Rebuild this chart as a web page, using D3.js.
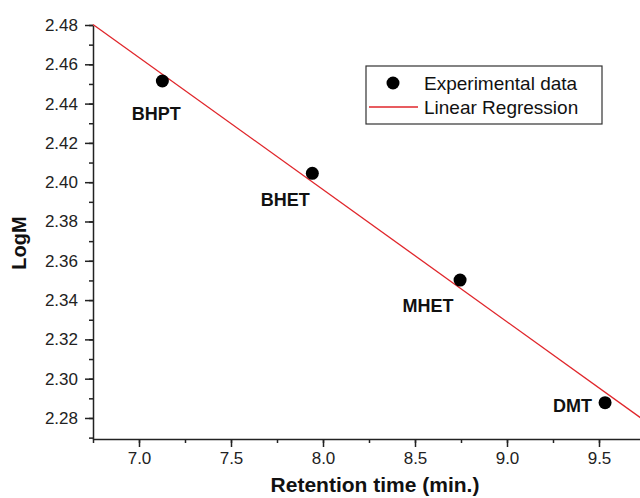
<!DOCTYPE html>
<html>
<head>
<meta charset="utf-8">
<script src="https://cdn.jsdelivr.net/npm/d3@7"></script>
<style>
  body { margin: 0; background: #fff; }
  svg { display: block; font-family: "Liberation Sans", Arial, sans-serif; }
  .axis path, .axis line { stroke: #222; stroke-width: 1.5; }
  .axis text { font-size: 17px; fill: #222; }
</style>
</head>
<body>
<div class="chart"></div>
<script>
// data
var names = ["BHPT", "BHET", "MHET", "DMT"];
var retention = [7.127, 7.942, 8.745, 9.533];
var logM = [2.4515, 2.4045, 2.3502, 2.2878];
// regression line end points
var regX = [6.75, 9.75];
var regY = [2.4803, 2.2785];
var xTicks = [7.0, 7.5, 8.0, 8.5, 9.0, 9.5];
var yTicks = [2.28, 2.30, 2.32, 2.34, 2.36, 2.38, 2.40, 2.42, 2.44, 2.46, 2.48];

// graph
var W = 640, H = 498;
var svg = d3.select(".chart").append("svg")
    .attr("width", W)
    .attr("height", H);

var x = d3.scaleLinear().domain([6.75, 9.75]).range([93, 645]);
var y = d3.scaleLinear().domain([2.2693, 2.48]).range([439, 25]);

// minor ticks
svg.append("g")
    .attr("class", "axis")
    .attr("transform", "translate(0,439)")
    .call(d3.axisBottom(x).tickValues(d3.range(6.75, 9.76, 0.25)).tickSize(4).tickFormat(""))
    .select(".domain").remove();

svg.append("g")
    .attr("class", "axis")
    .attr("transform", "translate(93,0)")
    .call(d3.axisLeft(y).tickValues(d3.range(2.27, 2.4801, 0.01)).tickSize(4).tickFormat(""))
    .select(".domain").remove();

// major axes
svg.append("g")
    .attr("class", "axis")
    .attr("transform", "translate(0,439)")
    .call(d3.axisBottom(x).tickValues(xTicks).tickSize(8).tickSizeOuter(0).tickPadding(5).tickFormat(d3.format(".1f")));

svg.append("g")
    .attr("class", "axis")
    .attr("transform", "translate(93,0)")
    .call(d3.axisLeft(y).tickValues(yTicks).tickSize(8).tickSizeOuter(0).tickPadding(7).tickFormat(d3.format(".2f")));

// axis titles
svg.append("text")
    .attr("x", 375).attr("y", 492)
    .attr("text-anchor", "middle")
    .style("font-size", "21px").style("font-weight", "bold").style("fill", "#111")
    .text("Retention time (min.)");

svg.append("text")
    .attr("transform", "translate(26,243) rotate(-90)")
    .attr("text-anchor", "middle")
    .style("font-size", "20px").style("font-weight", "bold").style("fill", "#111")
    .text("LogM");

// regression
var line = d3.line()
    .x(function(d, i) { return x(regX[i]); })
    .y(function(d) { return y(d); });

svg.append("path")
    .datum(regY)
    .attr("d", line)
    .attr("fill", "none")
    .attr("stroke", "#e0262b")
    .attr("stroke-width", 1.3);

// points
svg.selectAll(".dot")
    .data(logM)
  .enter().append("circle")
    .attr("class", "dot")
    .attr("cx", function(d, i) { return x(retention[i]); })
    .attr("cy", function(d) { return y(d); })
    .attr("r", 6.5)
    .attr("fill", "#000");

// point labels (offsets relative to each point)
var labelDx = [-6, -27, -32, -13];
var labelDy = [39, 33, 32, 9];
var labelAnchor = ["middle", "middle", "middle", "end"];
svg.selectAll(".lbl")
    .data(names)
  .enter().append("text")
    .attr("class", "lbl")
    .attr("x", function(d, i) { return x(retention[i]) + labelDx[i]; })
    .attr("y", function(d, i) { return y(logM[i]) + labelDy[i]; })
    .attr("text-anchor", function(d, i) { return labelAnchor[i]; })
    .style("font-size", "18px").style("font-weight", "bold").style("fill", "#111")
    .text(function(d) { return d; });

// legend
var legend = svg.append("g");
legend.append("rect")
    .attr("x", 366).attr("y", 66)
    .attr("width", 236).attr("height", 58)
    .attr("fill", "#fff")
    .attr("stroke", "#333")
    .attr("stroke-width", 1.2);
legend.append("circle")
    .attr("cx", 393).attr("cy", 83).attr("r", 6.5).attr("fill", "#000");
legend.append("line")
    .attr("x1", 369).attr("x2", 418).attr("y1", 107).attr("y2", 107)
    .attr("stroke", "#e0262b").attr("stroke-width", 1.3);
legend.append("text")
    .attr("x", 424).attr("y", 90)
    .style("font-size", "19px").style("fill", "#111")
    .text("Experimental data");
legend.append("text")
    .attr("x", 424).attr("y", 114)
    .style("font-size", "19px").style("fill", "#111")
    .text("Linear Regression");
</script>
</body>
</html>
